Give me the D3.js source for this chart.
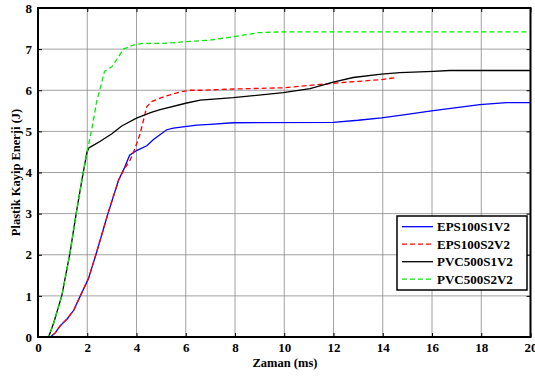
<!DOCTYPE html>
<html>
<head>
<meta charset="utf-8">
<script src="https://cdn.jsdelivr.net/npm/d3@7"></script>
<style>
  body { margin: 0; background: #fff; }
  text { font-family: "Liberation Serif", "Times New Roman", serif; font-weight: bold; }
</style>
</head>
<body>
<svg id="chart" width="535" height="378"></svg>
<script>
// series names in legend order
var seriesNames = ["EPS100S1V2", "EPS100S2V2", "PVC500S1V2", "PVC500S2V2"];

// time (ms) / plastic energy (J)
var tEps1 = [0, 0.5, 0.7, 0.9, 1.2, 1.45, 1.72, 2.05, 2.39, 2.84, 3.27, 3.5, 3.72, 4.02, 4.42, 4.69, 5.23, 5.5, 6.04, 6.45, 6.99, 7.93, 11.99, 13.0, 13.95, 14.7, 15.98, 17.94, 19.02, 20];
var eEps1 = [0, 0, 0.1, 0.27, 0.45, 0.65, 1.0, 1.42, 2.08, 3.0, 3.81, 4.1, 4.42, 4.54, 4.65, 4.8, 5.04, 5.08, 5.12, 5.15, 5.17, 5.21, 5.22, 5.27, 5.33, 5.39, 5.5, 5.65, 5.7, 5.7];

var tEps2 = [0, 0.5, 0.7, 0.9, 1.2, 1.45, 1.72, 2.05, 2.39, 2.84, 3.27, 3.5, 3.74, 3.95, 4.15, 4.42, 4.6, 5.1, 5.77, 6.18, 6.59, 7.93, 9.96, 11.05, 11.99, 13.95, 14.56];
var eEps2 = [0, 0, 0.1, 0.27, 0.45, 0.65, 1.0, 1.42, 2.08, 3.0, 3.81, 4.08, 4.3, 4.6, 4.95, 5.6, 5.72, 5.84, 5.96, 6.0, 6.0, 6.03, 6.06, 6.12, 6.17, 6.26, 6.31];

var tPvc1 = [0, 0.43, 0.63, 0.97, 1.31, 1.55, 1.78, 1.99, 2.07, 2.53, 3.0, 3.4, 4.0, 4.6, 4.96, 6.04, 6.59, 7.93, 9.96, 11.05, 11.99, 12.8, 13.95, 14.7, 16.05, 16.7, 20];
var ePvc1 = [0, 0, 0.33, 1.01, 2.08, 3.0, 3.81, 4.5, 4.6, 4.76, 4.94, 5.13, 5.32, 5.46, 5.53, 5.69, 5.76, 5.82, 5.94, 6.04, 6.2, 6.31, 6.39, 6.43, 6.46, 6.48, 6.48];

var tPvc2 = [0, 0.43, 0.63, 0.97, 1.31, 1.55, 1.78, 1.99, 2.2, 2.39, 2.53, 2.7, 3.0, 3.2, 3.47, 3.88, 4.28, 5.1, 6.04, 6.99, 7.93, 8.95, 9.96, 20];
var ePvc2 = [0, 0, 0.33, 1.01, 2.08, 3.0, 3.81, 4.5, 5.1, 5.75, 6.05, 6.46, 6.57, 6.75, 7.0, 7.1, 7.14, 7.14, 7.18, 7.22, 7.3, 7.4, 7.42, 7.42];

var xTicks = [0, 2, 4, 6, 8, 10, 12, 14, 16, 18, 20];
var yTicks = [0, 1, 2, 3, 4, 5, 6, 7, 8];

var svg = d3.select("#chart");
var plotLeft = 38, plotRight = 530.5, plotTop = 8, plotBottom = 337;

var x = d3.scaleLinear().domain([0, 20]).range([plotLeft, plotRight]);
var y = d3.scaleLinear().domain([0, 8]).range([plotBottom, plotTop]);

// grid
var grid = svg.append("g").attr("stroke", "#8a8a8a").attr("stroke-width", 0.8);
xTicks.slice(1, -1).forEach(function(t){
  grid.append("line").attr("x1", x(t)).attr("x2", x(t)).attr("y1", plotTop).attr("y2", plotBottom);
});
yTicks.slice(1, -1).forEach(function(t){
  grid.append("line").attr("x1", plotLeft).attr("x2", plotRight).attr("y1", y(t)).attr("y2", y(t));
});

// axes with inward ticks
var axes = [];
axes.push(svg.append("g").attr("transform", "translate(0," + plotBottom + ")")
  .call(d3.axisBottom(x).tickValues(xTicks).tickSize(-4).tickPadding(6).tickFormat(d3.format("d"))));
axes.push(svg.append("g").attr("transform", "translate(" + plotLeft + ",0)")
  .call(d3.axisLeft(y).tickValues(yTicks).tickSize(-4).tickPadding(6).tickFormat(d3.format("d"))));
axes.push(svg.append("g").attr("transform", "translate(0," + plotTop + ")")
  .call(d3.axisTop(x).tickValues(xTicks).tickSize(-4).tickFormat("")));
axes.push(svg.append("g").attr("transform", "translate(" + plotRight + ",0)")
  .call(d3.axisRight(y).tickValues(yTicks).tickSize(-4).tickFormat("")));
axes.forEach(function(g){
  g.attr("font-family", "Liberation Serif, serif").attr("font-size", 13).attr("font-weight", "bold");
});

svg.selectAll(".domain").remove();
svg.selectAll(".tick line").attr("stroke", "#000").attr("stroke-width", 1);
svg.selectAll(".tick text").attr("fill", "#000");

// curves
var series = [
  { t: tEps1, e: eEps1, color: "#0000ff", dash: null },
  { t: tEps2, e: eEps2, color: "#ff0000", dash: "5,3" },
  { t: tPvc1, e: ePvc1, color: "#000000", dash: null },
  { t: tPvc2, e: ePvc2, color: "#00ee00", dash: "5,3" }
];

var line = d3.line().x(function(d){ return x(d[0]); }).y(function(d){ return y(d[1]); });

series.forEach(function(s){
  svg.append("path")
    .datum(d3.zip(s.t, s.e))
    .attr("d", line)
    .attr("fill", "none")
    .attr("stroke", s.color)
    .attr("stroke-width", 1.3)
    .attr("stroke-dasharray", s.dash);
});

// box
svg.append("rect").attr("x", plotLeft).attr("y", plotTop)
  .attr("width", plotRight - plotLeft).attr("height", plotBottom - plotTop)
  .attr("fill", "none").attr("stroke", "#000").attr("stroke-width", 2);

// legend
var lg = svg.append("g").attr("transform", "translate(397,216)");
lg.append("rect").attr("width", 130).attr("height", 74).attr("fill", "#fff")
  .attr("stroke", "#000").attr("stroke-width", 1.5);
seriesNames.forEach(function(name, i){
  var yy = 10.7 + i * 17.5;
  lg.append("line").attr("x1", 5).attr("x2", 36).attr("y1", yy).attr("y2", yy)
    .attr("stroke", series[i].color).attr("stroke-width", 1.3)
    .attr("stroke-dasharray", series[i].dash);
  lg.append("text").attr("x", 40).attr("y", yy + 4.5).attr("font-size", 13).text(name);
});

// axis titles
svg.append("text").attr("x", 285).attr("y", 367).attr("text-anchor", "middle")
  .attr("font-size", 12.5).text("Zaman (ms)");
svg.append("text").attr("transform", "translate(20," + 172.5 + ") rotate(-90)")
  .attr("text-anchor", "middle").attr("font-size", 12.5).text("Plastik Kayip Enerji (J)");
</script>
</body>
</html>
